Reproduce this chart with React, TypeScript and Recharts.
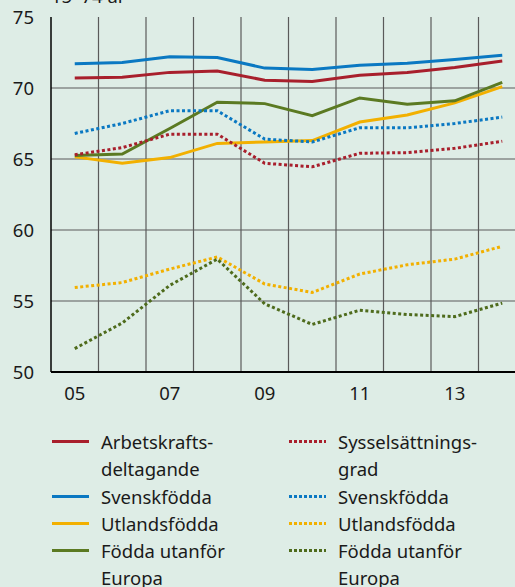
import { LineChart, Line, XAxis, YAxis, ReferenceLine } from "recharts";

const YEARS = [2005, 2006, 2007, 2008, 2009, 2010, 2011, 2012, 2013, 2014];

// Arbetskraftsdeltagande (solid)
const AKI_TOTAL = [70.7, 70.75, 71.1, 71.2, 70.55, 70.45, 70.9, 71.1, 71.45, 71.9];
const AKI_SWEDISH = [71.7, 71.8, 72.2, 72.15, 71.4, 71.3, 71.6, 71.75, 72.0, 72.3];
const AKI_FOREIGN = [65.15, 64.7, 65.1, 66.1, 66.2, 66.3, 67.6, 68.1, 68.95, 70.1];
const AKI_NON_EU = [65.25, 65.35, 67.15, 69.0, 68.9, 68.05, 69.3, 68.85, 69.1, 70.4];

// Sysselsättningsgrad (dotted)
const EMP_TOTAL = [65.3, 65.8, 66.75, 66.75, 64.7, 64.45, 65.4, 65.45, 65.75, 66.25];
const EMP_SWEDISH = [66.8, 67.5, 68.4, 68.4, 66.4, 66.2, 67.2, 67.2, 67.5, 67.95];
const EMP_FOREIGN = [55.95, 56.3, 57.25, 58.1, 56.2, 55.6, 56.9, 57.55, 57.95, 58.85];
const EMP_NON_EU = [51.65, 53.45, 56.1, 57.95, 54.8, 53.35, 54.35, 54.05, 53.9, 54.85];

const X_TICKS = [2005, 2007, 2009, 2011, 2013];
const Y_TICKS = [50, 55, 60, 65, 70, 75];
const GRID_X = [2005.5, 2006.5, 2007.5, 2008.5, 2009.5, 2010.5, 2011.5, 2012.5, 2013.5];
const GRID_Y = [55, 60, 65, 70];

const RED = "#a81f2c";
const BLUE = "#0a78c2";
const YELLOW = "#f2b000";
const GREEN = "#5b7a22";
const GREEN_DOT = "#4e6b1c";

const SERIES = [
  { key: "akiTotal", values: AKI_TOTAL, color: RED, dotted: false, label: ["Arbetskrafts-", "deltagande"] },
  { key: "akiSwe", values: AKI_SWEDISH, color: BLUE, dotted: false, label: ["Svenskfödda"] },
  { key: "akiFor", values: AKI_FOREIGN, color: YELLOW, dotted: false, label: ["Utlandsfödda"] },
  { key: "akiNonEu", values: AKI_NON_EU, color: GREEN, dotted: false, label: ["Födda utanför", "Europa"] },
  { key: "empTotal", values: EMP_TOTAL, color: RED, dotted: true, label: ["Sysselsättnings-", "grad"] },
  { key: "empSwe", values: EMP_SWEDISH, color: BLUE, dotted: true, label: ["Svenskfödda"] },
  { key: "empFor", values: EMP_FOREIGN, color: YELLOW, dotted: true, label: ["Utlandsfödda"] },
  { key: "empNonEu", values: EMP_NON_EU, color: GREEN_DOT, dotted: true, label: ["Födda utanför", "Europa"] },
];

const data = YEARS.map((year, i) => {
  const row: Record<string, number> = { year };
  SERIES.forEach((s) => (row[s.key] = s.values[i]));
  return row;
});

const FONT = "'Noto Sans', sans-serif";
const FS = 18.5;
const BG = "#deede6";
const GRID = "#5a5a5a";

function LegendColumn({ items, left }: { items: typeof SERIES; left: number }) {
  return (
    <div style={{ position: "absolute", left, top: 428 }}>
      {items.map((s) => (
        <div key={s.key} style={{ display: "flex", alignItems: "flex-start" }}>
          <svg width={37} height={27} style={{ flex: "none" }}>
            <line
              x1={0}
              x2={37}
              y1={13.5}
              y2={13.5}
              stroke={s.color}
              strokeWidth={3}
              strokeDasharray={s.dotted ? "3 2" : undefined}
            />
          </svg>
          <div style={{ marginLeft: 12, lineHeight: "27.3px" }}>
            {s.label.map((l) => (
              <div key={l}>{l}</div>
            ))}
          </div>
        </div>
      ))}
    </div>
  );
}

export default function App() {
  return (
    <div
      style={{
        position: "absolute",
        left: 0,
        top: 0,
        width: 515,
        height: 587,
        overflow: "hidden",
        background: BG,
        fontFamily: FONT,
        fontSize: FS,
        color: "#1a1a1a",
      }}
    >
      <div style={{ position: "absolute", left: 51, top: -13, lineHeight: `${FS}px` }}>15–74 år</div>
      <LineChart width={530} height={420} data={data} margin={{ top: 17, right: 4, bottom: 8, left: 0 }}>
        <XAxis
          dataKey="year"
          type="number"
          domain={[2004.5, 2014.5]}
          ticks={X_TICKS}
          tickFormatter={(v) => String(v).slice(2)}
          tickLine={false}
          tickMargin={9}
          height={40}
          stroke="#000"
          strokeWidth={2}
          tick={{ fill: "#1a1a1a", fontSize: FS, fontFamily: FONT }}
          allowDataOverflow
        />
        <YAxis
          type="number"
          domain={[50, 75]}
          ticks={Y_TICKS}
          tickLine={false}
          tickMargin={11}
          width={51}
          stroke="#000"
          strokeWidth={1.5}
          tick={{ fill: "#1a1a1a", fontSize: FS, fontFamily: FONT }}
        />
        {GRID_X.map((x) => (
          <ReferenceLine key={`gx${x}`} x={x} stroke={GRID} strokeWidth={1.2} />
        ))}
        {GRID_Y.map((y) => (
          <ReferenceLine key={`gy${y}`} y={y} stroke={GRID} strokeWidth={1.2} />
        ))}
        {SERIES.map((s) => (
          <Line
            key={s.key}
            dataKey={s.key}
            stroke={s.color}
            strokeWidth={3}
            strokeDasharray={s.dotted ? "3 2.5" : undefined}
            dot={false}
            activeDot={false}
            type="linear"
            isAnimationActive={false}
          />
        ))}
      </LineChart>
      <LegendColumn items={SERIES.slice(0, 4)} left={52} />
      <LegendColumn items={SERIES.slice(4)} left={289} />
    </div>
  );
}
